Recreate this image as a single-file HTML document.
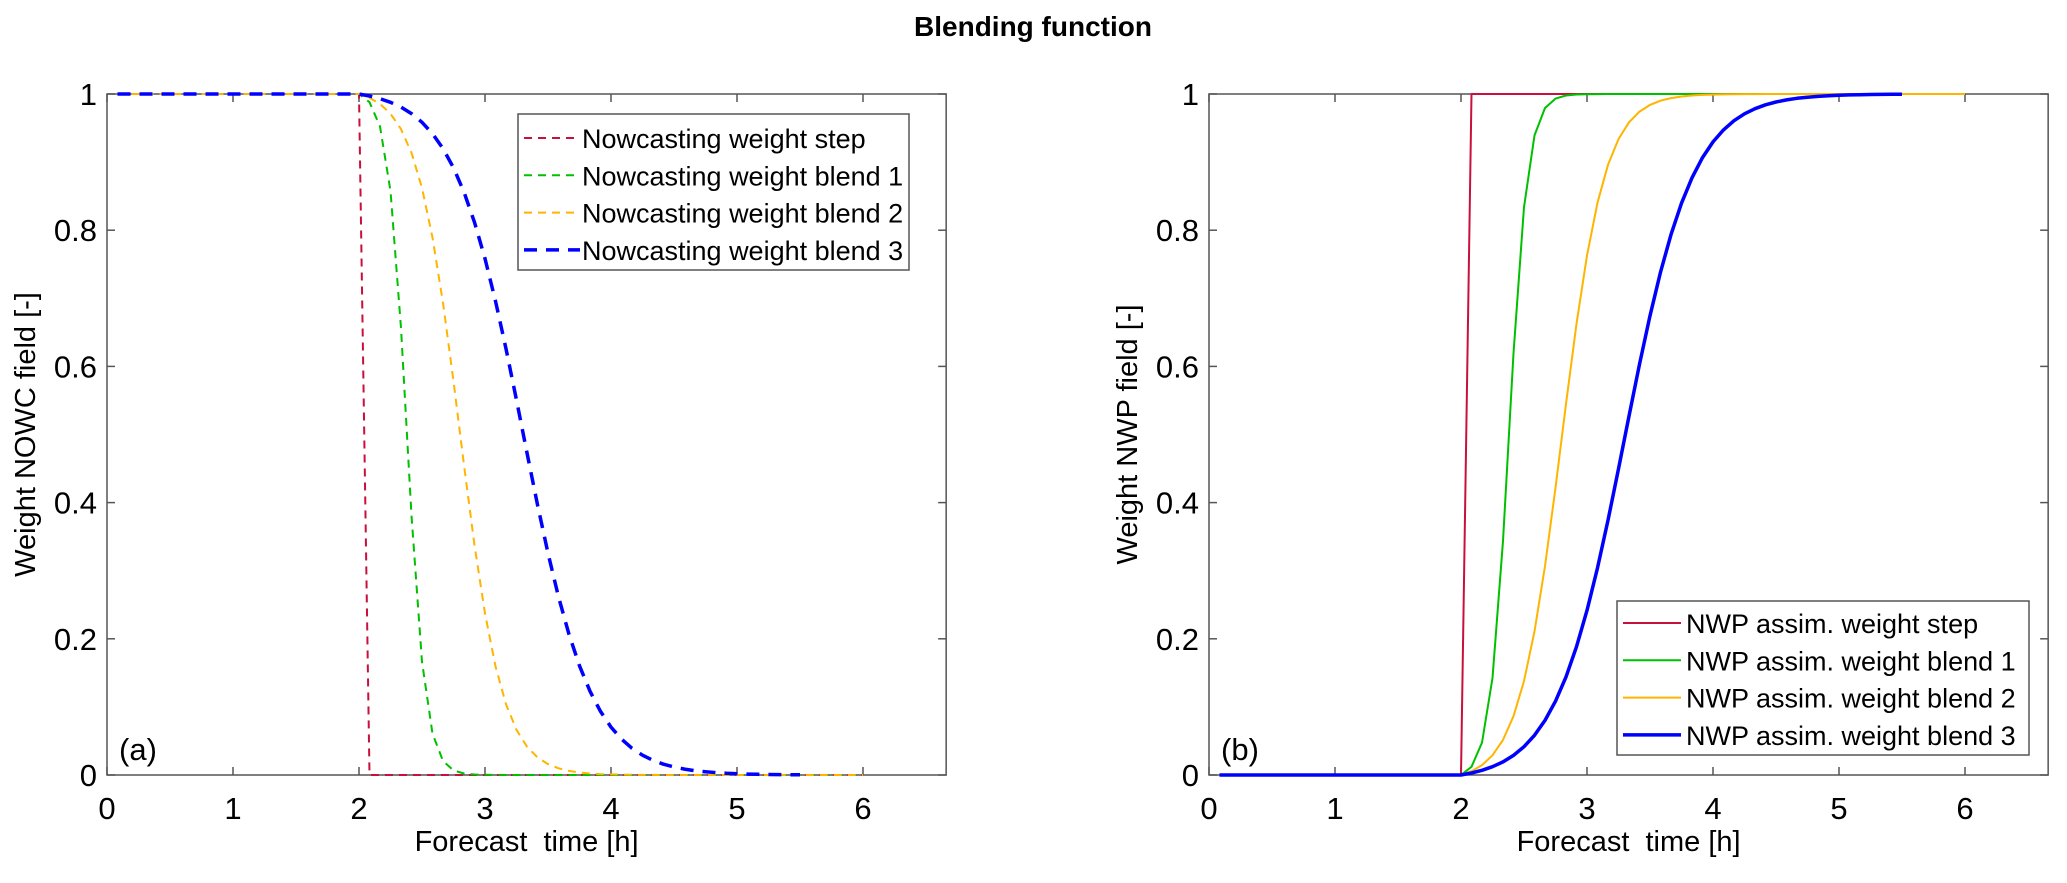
<!DOCTYPE html>
<html><head><meta charset="utf-8"><style>
html,body{margin:0;padding:0;background:#fff;}
svg{display:block;font-family:"Liberation Sans",Arial,sans-serif;}
</style></head><body>
<svg id="s" width="2067" height="883" viewBox="0 0 2067 883" xmlns="http://www.w3.org/2000/svg">
<rect width="2067" height="883" fill="#fff"/>
<text x="1033" y="36" font-size="28" font-weight="bold" text-anchor="middle">Blending function</text>
<g id="g"></g>
</svg>
<script>
(function(){
const g=document.getElementById('g');
const NS='http://www.w3.org/2000/svg';
function el(t,a,txt){const e=document.createElementNS(NS,t);for(const k in a)e.setAttribute(k,a[k]);if(txt!=null)e.textContent=txt;g.appendChild(e);return e;}
const ytop=94,ybot=775,pxh=126,xmax=6.66;
const C={r:'#C8103C',gr:'#00C000',y:'#FFB400',b:'#0000FF'};
function sig(t,c,k){return 1/(1+Math.exp(-k*(t-c)));}
function bl(t,c,k){if(t<=2.01)return 0;const s0=sig(2,c,k);return Math.max(0,(sig(t,c,k)-s0)/(1-s0));}
function axes(x0,ylab,tag){
  const x1=x0+pxh*xmax;
  const X=t=>x0+t*pxh, Y=w=>ybot-w*(ybot-ytop);
  return {X,Y,draw(){
    el('rect',{x:x0,y:ytop,width:x1-x0,height:ybot-ytop,fill:'none',stroke:'#555','stroke-width':1.5});
    for(let i=0;i<=6;i++){const x=X(i);
      el('line',{x1:x,y1:ybot,x2:x,y2:ybot-8,stroke:'#555','stroke-width':1.5});
      el('line',{x1:x,y1:ytop,x2:x,y2:ytop+8,stroke:'#555','stroke-width':1.5});
      el('text',{x:x,y:819,'font-size':31,'text-anchor':'middle'},String(i));}
    for(let i=0;i<=5;i++){const w=i/5,y=Y(w);
      el('line',{x1:x0,y1:y,x2:x0+8,y2:y,stroke:'#555','stroke-width':1.5});
      el('line',{x1:x1,y1:y,x2:x1-8,y2:y,stroke:'#555','stroke-width':1.5});
      el('text',{x:x0-10,y:y+11,'font-size':31,'text-anchor':'end'},i==0?'0':i==5?'1':w.toFixed(1));}
    el('text',{x:(x0+x1)/2,y:851,'font-size':29,'text-anchor':'middle',style:'white-space:pre'},'Forecast  time [h]');
    el('text',{x:0,y:0,'font-size':29,'text-anchor':'middle',transform:'translate('+(x0-72)+','+((ytop+ybot)/2)+') rotate(-90)'},ylab);
    el('text',{x:x0+12,y:760,'font-size':31},tag);
  }};
}
function path(ax,f,t0,t1,st){
  let d='';for(let t=t0;t<=t1+1e-9;t+=1/12){d+=(d?'L':'M')+ax.X(t).toFixed(1)+','+ax.Y(f(t)).toFixed(1);}
  el('path',Object.assign({d:d,fill:'none','stroke-linejoin':'round'},st));
}
const B=[[2.38,13.5],[2.8,5.9],[3.3,3.7]];
const A=axes(107,'Weight NOWC field [-]','(a)');A.draw();
const thinD={'stroke-width':2,'stroke-dasharray':'8 6'};
path(A,t=>t<2.04?1:0,1/12,6.08,Object.assign({stroke:C.r},thinD));
path(A,t=>1-bl(t,B[0][0],B[0][1]),1/12,6.08,Object.assign({stroke:C.gr},thinD));
path(A,t=>1-bl(t,B[1][0],B[1][1]),1/12,6.08,Object.assign({stroke:C.y},thinD));
path(A,t=>1-bl(t,B[2][0],B[2][1]),1/12,5.58,{stroke:C.b,'stroke-width':3.5,'stroke-dasharray':'13 9'});
el('rect',{x:518,y:114,width:391,height:156,fill:'#fff',stroke:'#555','stroke-width':1.5});
[['Nowcasting weight step',C.r,2,'8 6'],['Nowcasting weight blend 1',C.gr,2,'8 6'],['Nowcasting weight blend 2',C.y,2,'8 6'],['Nowcasting weight blend 3',C.b,3.5,'13 9']].forEach((r,i)=>{
  const y=138+i*37.3;
  el('line',{x1:524,y1:y,x2:580,y2:y,stroke:r[1],'stroke-width':r[2],'stroke-dasharray':r[3]});
  el('text',{x:582,y:y+10,'font-size':27},r[0]);});
const R=axes(1209,'Weight NWP field [-]','(b)');R.draw();
path(R,t=>t<2.04?0:1,1/12,6.08,{stroke:C.r,'stroke-width':2});
path(R,t=>bl(t,B[0][0],B[0][1]),1/12,6.08,{stroke:C.gr,'stroke-width':2});
path(R,t=>bl(t,B[1][0],B[1][1]),1/12,6.08,{stroke:C.y,'stroke-width':2});
path(R,t=>bl(t,B[2][0],B[2][1]),1/12,5.58,{stroke:C.b,'stroke-width':3.5});
el('rect',{x:1617,y:601,width:412,height:154,fill:'#fff',stroke:'#555','stroke-width':1.5});
[['NWP assim. weight step',C.r,2],['NWP assim. weight blend 1',C.gr,2],['NWP assim. weight blend 2',C.y,2],['NWP assim. weight blend 3',C.b,3.5]].forEach((r,i)=>{
  const y=623+i*37.3;
  el('line',{x1:1623,y1:y,x2:1681,y2:y,stroke:r[1],'stroke-width':r[2]});
  el('text',{x:1686,y:y+10,'font-size':27},r[0]);});
})();
</script>
</body></html>
